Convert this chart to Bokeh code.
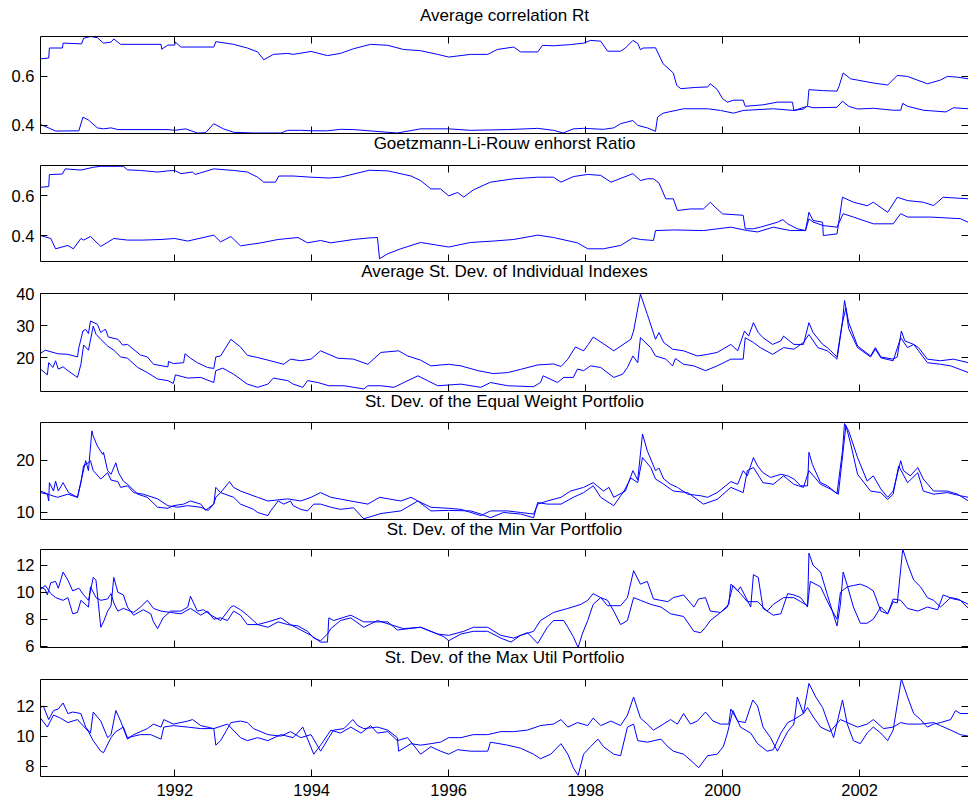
from bokeh.plotting import figure
from bokeh.models import LinearAxis, FixedTicker, Range1d, Title
from bokeh.layouts import column
from bokeh.embed import file_html
from bokeh.resources import INLINE

# ---------------- data (decimal years, values) ----------------
year_ticks = [1992, 1994, 1996, 1998, 2000, 2002]

rt_a_t = [1990.04, 1990.16, 1990.17, 1990.36, 1990.37, 1990.64, 1990.67, 1990.77, 1990.87, 1990.96, 1991.07, 1991.11, 1991.21, 1991.80, 1991.81, 1991.90, 1992.00, 1992.01, 1992.09, 1992.57, 1992.60, 1992.86, 1993.06, 1993.21, 1993.30, 1993.44, 1993.65, 1993.73, 1993.99, 1994.23, 1994.42, 1994.61, 1994.86, 1995.11, 1995.34, 1995.59, 1995.84, 1996.00, 1996.32, 1996.57, 1996.71, 1996.95, 1997.05, 1997.30, 1997.37, 1997.53, 1997.78, 1997.97, 1998.07, 1998.22, 1998.32, 1998.51, 1998.58, 1998.69, 1998.76, 1998.80, 1998.84, 1999.02, 1999.13, 1999.28, 1999.33, 1999.39, 1999.60, 1999.78, 1999.82, 1999.92, 2000.00, 2000.07, 2000.16, 2000.30, 2000.33, 2000.59, 2000.80, 2001.02, 2001.04, 2001.18, 2001.24, 2001.26, 2001.47, 2001.67, 2001.70, 2001.76, 2001.87, 2001.97, 2002.20, 2002.41, 2002.55, 2002.70, 2002.99, 2003.18, 2003.28, 2003.43, 2003.59]
rt_a_v = [0.672, 0.675, 0.716, 0.716, 0.736, 0.733, 0.756, 0.763, 0.758, 0.736, 0.74, 0.753, 0.731, 0.731, 0.711, 0.728, 0.728, 0.74, 0.72, 0.72, 0.742, 0.731, 0.716, 0.70, 0.668, 0.69, 0.694, 0.69, 0.702, 0.685, 0.694, 0.713, 0.731, 0.727, 0.71, 0.705, 0.69, 0.679, 0.69, 0.69, 0.71, 0.72, 0.70, 0.70, 0.727, 0.725, 0.73, 0.736, 0.747, 0.744, 0.703, 0.703, 0.716, 0.747, 0.735, 0.709, 0.716, 0.717, 0.652, 0.614, 0.563, 0.55, 0.555, 0.557, 0.57, 0.547, 0.509, 0.495, 0.503, 0.503, 0.478, 0.484, 0.495, 0.495, 0.461, 0.467, 0.48, 0.546, 0.542, 0.54, 0.56, 0.614, 0.59, 0.585, 0.573, 0.565, 0.604, 0.6, 0.57, 0.585, 0.6, 0.597, 0.59]

rt_b_t = [1990.04, 1990.19, 1990.26, 1990.60, 1990.66, 1990.74, 1990.87, 1990.96, 1991.07, 1991.17, 1991.90, 1992.00, 1992.16, 1992.33, 1992.45, 1992.57, 1992.71, 1992.86, 1993.15, 1993.55, 1993.65, 1993.84, 1994.02, 1994.23, 1994.42, 1994.61, 1995.11, 1995.25, 1995.59, 1996.00, 1996.32, 1996.86, 1997.30, 1997.53, 1997.67, 1997.82, 1997.97, 1998.26, 1998.41, 1998.51, 1998.69, 1998.76, 1998.90, 1999.02, 1999.05, 1999.13, 1999.43, 1999.78, 1999.97, 2000.16, 2000.30, 2000.74, 2001.04, 2001.24, 2001.32, 2001.67, 2001.75, 2001.84, 2001.97, 2002.20, 2002.49, 2002.60, 2002.63, 2002.70, 2002.93, 2003.26, 2003.37, 2003.59]
rt_b_v = [0.404, 0.386, 0.377, 0.378, 0.434, 0.422, 0.39, 0.386, 0.39, 0.383, 0.383, 0.38, 0.386, 0.369, 0.37, 0.407, 0.386, 0.372, 0.369, 0.369, 0.38, 0.38, 0.378, 0.378, 0.384, 0.383, 0.372, 0.369, 0.386, 0.386, 0.38, 0.383, 0.388, 0.38, 0.369, 0.386, 0.388, 0.384, 0.39, 0.407, 0.42, 0.40, 0.39, 0.376, 0.434, 0.45, 0.468, 0.468, 0.461, 0.45, 0.461, 0.468, 0.461, 0.478, 0.472, 0.474, 0.499, 0.478, 0.467, 0.47, 0.462, 0.462, 0.49, 0.478, 0.462, 0.455, 0.472, 0.468]

glr_a_t = [1990.04, 1990.16, 1990.17, 1990.36, 1990.40, 1990.63, 1990.81, 1990.92, 1991.25, 1991.31, 1991.50, 1991.75, 1991.90, 1992.00, 1992.09, 1992.26, 1992.30, 1992.57, 1992.86, 1993.06, 1993.21, 1993.30, 1993.47, 1993.52, 1993.73, 1993.99, 1994.25, 1994.42, 1994.84, 1995.11, 1995.45, 1995.59, 1995.74, 1995.88, 1996.00, 1996.13, 1996.22, 1996.36, 1996.61, 1996.95, 1997.30, 1997.53, 1997.64, 1997.82, 1998.03, 1998.22, 1998.37, 1998.69, 1998.80, 1998.90, 1998.99, 1999.07, 1999.17, 1999.28, 1999.34, 1999.53, 1999.72, 1999.82, 1999.92, 2000.00, 2000.30, 2000.33, 2000.45, 2000.55, 2000.80, 2000.88, 2000.95, 2001.09, 2001.21, 2001.26, 2001.32, 2001.46, 2001.47, 2001.67, 2001.75, 2001.91, 2002.11, 2002.20, 2002.41, 2002.55, 2002.70, 2002.93, 2003.08, 2003.22, 2003.59]
glr_a_v = [0.643, 0.647, 0.707, 0.71, 0.736, 0.73, 0.744, 0.749, 0.749, 0.731, 0.728, 0.72, 0.726, 0.728, 0.712, 0.72, 0.708, 0.736, 0.728, 0.72, 0.694, 0.669, 0.669, 0.70, 0.70, 0.694, 0.69, 0.694, 0.729, 0.726, 0.70, 0.677, 0.635, 0.635, 0.60, 0.617, 0.594, 0.63, 0.669, 0.686, 0.694, 0.694, 0.669, 0.697, 0.708, 0.703, 0.669, 0.712, 0.677, 0.686, 0.686, 0.665, 0.585, 0.585, 0.526, 0.534, 0.534, 0.568, 0.534, 0.509, 0.502, 0.434, 0.434, 0.442, 0.467, 0.48, 0.459, 0.434, 0.425, 0.517, 0.476, 0.467, 0.40, 0.408, 0.593, 0.568, 0.55, 0.568, 0.517, 0.593, 0.576, 0.568, 0.551, 0.593, 0.585]

glr_b_t = [1990.04, 1990.19, 1990.26, 1990.44, 1990.52, 1990.63, 1990.67, 1990.77, 1990.92, 1991.11, 1991.31, 1991.54, 1991.80, 1992.00, 1992.19, 1992.57, 1992.67, 1992.82, 1992.96, 1993.26, 1993.51, 1993.80, 1993.94, 1994.13, 1994.28, 1994.61, 1994.84, 1994.96, 1994.99, 1995.11, 1995.30, 1995.59, 1996.00, 1996.32, 1996.65, 1996.95, 1997.30, 1997.53, 1997.88, 1998.03, 1998.26, 1998.51, 1998.69, 1998.80, 1998.99, 1999.02, 1999.28, 1999.72, 2000.12, 2000.36, 2000.51, 2000.74, 2000.99, 2001.21, 2001.26, 2001.32, 2001.47, 2001.67, 2001.76, 2001.91, 2002.20, 2002.49, 2002.60, 2002.70, 2003.04, 2003.47, 2003.59]
glr_b_v = [0.40, 0.385, 0.333, 0.35, 0.333, 0.385, 0.377, 0.395, 0.345, 0.385, 0.377, 0.377, 0.38, 0.385, 0.372, 0.402, 0.368, 0.395, 0.348, 0.363, 0.38, 0.39, 0.363, 0.375, 0.363, 0.38, 0.388, 0.39, 0.283, 0.308, 0.333, 0.365, 0.342, 0.365, 0.372, 0.38, 0.402, 0.39, 0.363, 0.333, 0.333, 0.35, 0.388, 0.38, 0.375, 0.425, 0.428, 0.425, 0.442, 0.425, 0.418, 0.442, 0.425, 0.425, 0.484, 0.468, 0.45, 0.442, 0.51, 0.493, 0.459, 0.459, 0.51, 0.493, 0.493, 0.485, 0.466]

sd_a_t = [1990.04, 1990.11, 1990.29, 1990.44, 1990.58, 1990.60, 1990.66, 1990.70, 1990.74, 1990.77, 1990.87, 1990.92, 1990.96, 1990.99, 1991.03, 1991.17, 1991.24, 1991.31, 1991.50, 1991.60, 1991.69, 1991.90, 1991.91, 1991.98, 1992.13, 1992.15, 1992.23, 1992.33, 1992.48, 1992.57, 1992.60, 1992.67, 1992.82, 1992.96, 1993.06, 1993.21, 1993.36, 1993.59, 1993.69, 1993.84, 1993.99, 1994.13, 1994.38, 1994.61, 1994.82, 1995.01, 1995.27, 1995.40, 1995.59, 1995.74, 1996.00, 1996.18, 1996.43, 1996.65, 1996.86, 1997.05, 1997.30, 1997.53, 1997.64, 1997.74, 1997.85, 1997.97, 1998.04, 1998.11, 1998.26, 1998.41, 1998.66, 1998.70, 1998.80, 1998.90, 1999.02, 1999.07, 1999.14, 1999.27, 1999.43, 1999.63, 1999.78, 1999.92, 2000.12, 2000.22, 2000.32, 2000.38, 2000.45, 2000.52, 2000.59, 2000.73, 2000.85, 2000.89, 2001.04, 2001.18, 2001.26, 2001.32, 2001.46, 2001.53, 2001.67, 2001.75, 2001.78, 2001.84, 2001.97, 2002.16, 2002.23, 2002.31, 2002.49, 2002.55, 2002.61, 2002.66, 2002.79, 2002.86, 2002.99, 2003.18, 2003.37, 2003.59]
sd_a_v = [21.3, 22.3, 21.2, 21.0, 20.2, 23.1, 28.3, 28.8, 27.5, 31.4, 30.4, 27.8, 28.5, 28.8, 26.4, 25.7, 23.9, 24.1, 20.8, 20.2, 17.9, 17.1, 18.8, 18.1, 18.4, 21.2, 19.8, 18.4, 16.9, 16.6, 20.2, 20.5, 25.7, 23.3, 20.7, 20.0, 19.2, 17.9, 19.5, 19.0, 19.5, 22.1, 19.8, 19.5, 17.9, 21.6, 22.1, 20.5, 19.2, 17.4, 17.9, 17.4, 15.9, 15.0, 15.3, 16.3, 17.7, 18.0, 17.2, 19.5, 23.3, 22.1, 24.1, 26.4, 24.3, 22.1, 25.7, 28.3, 39.8, 33.5, 25.7, 27.8, 24.7, 22.6, 22.1, 20.5, 21.0, 21.6, 24.1, 22.1, 28.3, 26.7, 30.9, 27.8, 26.2, 24.1, 25.2, 26.7, 24.1, 24.1, 30.9, 27.8, 24.1, 23.1, 20.2, 31.4, 37.8, 31.0, 23.6, 20.5, 23.1, 20.2, 19.5, 20.2, 28.3, 25.2, 24.1, 23.1, 19.5, 19.0, 19.5, 18.4]

sd_b_t = [1990.04, 1990.14, 1990.16, 1990.22, 1990.26, 1990.30, 1990.37, 1990.44, 1990.58, 1990.63, 1990.67, 1990.74, 1990.81, 1990.85, 1990.92, 1991.02, 1991.11, 1991.21, 1991.31, 1991.46, 1991.60, 1991.75, 1991.90, 1991.98, 1992.01, 1992.19, 1992.38, 1992.57, 1992.60, 1992.70, 1992.86, 1993.06, 1993.21, 1993.36, 1993.44, 1993.65, 1993.73, 1993.87, 1993.94, 1994.09, 1994.25, 1994.47, 1994.76, 1994.82, 1995.01, 1995.20, 1995.55, 1995.69, 1995.84, 1996.18, 1996.47, 1996.61, 1996.86, 1997.24, 1997.34, 1997.38, 1997.59, 1997.68, 1997.82, 1997.88, 1997.97, 1998.07, 1998.22, 1998.41, 1998.54, 1998.61, 1998.69, 1998.76, 1998.80, 1998.95, 1999.02, 1999.17, 1999.27, 1999.31, 1999.43, 1999.58, 1999.75, 1999.92, 2000.12, 2000.30, 2000.33, 2000.45, 2000.55, 2000.73, 2000.89, 2001.04, 2001.18, 2001.26, 2001.39, 2001.53, 2001.67, 2001.75, 2001.80, 2001.84, 2001.97, 2002.16, 2002.23, 2002.31, 2002.49, 2002.60, 2002.70, 2002.79, 2002.86, 2002.99, 2003.18, 2003.33, 2003.59]
sd_b_v = [16.4, 14.6, 18.4, 16.9, 19.0, 16.4, 17.1, 15.9, 13.8, 17.9, 23.9, 22.3, 29.8, 27.3, 25.7, 23.6, 22.3, 20.2, 19.8, 16.9, 15.3, 13.3, 12.8, 11.9, 14.6, 13.6, 13.8, 12.2, 15.9, 16.7, 14.8, 11.7, 10.7, 11.7, 13.6, 12.8, 11.7, 10.7, 12.8, 12.2, 11.2, 11.2, 10.2, 11.2, 11.2, 10.7, 14.3, 12.8, 11.2, 11.7, 10.7, 12.2, 11.2, 10.9, 12.2, 14.3, 12.2, 13.8, 13.8, 16.4, 15.9, 17.4, 16.9, 13.8, 14.8, 16.9, 20.5, 18.4, 26.2, 23.1, 20.5, 19.5, 17.4, 19.7, 17.9, 17.4, 15.9, 17.4, 19.5, 19.5, 26.2, 24.7, 23.1, 21.0, 23.1, 22.6, 24.7, 27.2, 23.1, 22.1, 19.5, 30.9, 35.5, 29.0, 23.1, 20.2, 22.6, 19.9, 19.0, 26.2, 23.1, 24.1, 22.1, 18.4, 17.9, 17.4, 15.3]

ew_a_t = [1990.04, 1990.14, 1990.16, 1990.17, 1990.23, 1990.26, 1990.30, 1990.37, 1990.45, 1990.58, 1990.63, 1990.70, 1990.74, 1990.79, 1990.81, 1990.87, 1990.95, 1990.96, 1991.02, 1991.07, 1991.14, 1991.18, 1991.25, 1991.31, 1991.46, 1991.60, 1991.75, 1991.90, 1991.98, 1992.13, 1992.23, 1992.38, 1992.45, 1992.57, 1992.60, 1992.67, 1992.80, 1992.86, 1992.96, 1993.21, 1993.36, 1993.65, 1993.84, 1993.99, 1994.13, 1994.28, 1994.57, 1994.82, 1994.99, 1995.30, 1995.45, 1995.55, 1995.74, 1996.00, 1996.18, 1996.47, 1996.61, 1996.86, 1997.05, 1997.24, 1997.30, 1997.44, 1997.64, 1997.78, 1997.97, 1998.11, 1998.26, 1998.34, 1998.41, 1998.58, 1998.69, 1998.76, 1998.83, 1998.90, 1999.02, 1999.07, 1999.14, 1999.24, 1999.34, 1999.49, 1999.68, 1999.78, 1999.92, 2000.12, 2000.22, 2000.30, 2000.36, 2000.45, 2000.51, 2000.59, 2000.70, 2000.85, 2000.95, 2001.04, 2001.14, 2001.24, 2001.26, 2001.31, 2001.43, 2001.53, 2001.67, 2001.75, 2001.78, 2001.84, 2001.97, 2002.11, 2002.20, 2002.31, 2002.41, 2002.49, 2002.60, 2002.64, 2002.74, 2002.85, 2002.93, 2003.08, 2003.28, 2003.43, 2003.59]
ew_a_v = [13.8, 13.5, 12.2, 15.7, 14.1, 16.0, 14.1, 15.7, 13.8, 12.9, 15.9, 19.9, 18.0, 25.6, 24.6, 22.7, 21.1, 21.5, 18.0, 17.3, 19.5, 17.6, 16.0, 15.4, 13.5, 12.9, 11.0, 10.8, 11.3, 11.6, 12.2, 11.6, 10.4, 11.6, 14.8, 13.8, 15.9, 14.8, 14.1, 12.9, 12.2, 12.6, 12.2, 12.9, 13.8, 12.9, 12.2, 11.6, 12.9, 12.2, 12.9, 12.2, 11.0, 10.8, 10.6, 9.4, 10.3, 10.3, 10.0, 9.7, 11.6, 12.2, 12.9, 14.1, 14.8, 15.7, 14.1, 14.8, 12.9, 14.1, 18.0, 16.2, 25.0, 21.8, 18.0, 18.5, 16.4, 15.4, 14.8, 13.5, 13.2, 12.9, 13.8, 15.9, 15.4, 18.0, 17.0, 20.5, 18.9, 17.6, 16.7, 17.3, 17.0, 16.4, 15.1, 15.1, 21.5, 19.2, 15.7, 15.1, 13.6, 21.8, 27.0, 25.6, 20.5, 16.0, 17.0, 14.5, 12.9, 14.1, 19.9, 18.0, 17.0, 18.6, 16.4, 14.1, 14.1, 13.5, 12.2]

ew_b_t = [1990.04, 1990.19, 1990.29, 1990.44, 1990.58, 1990.63, 1990.67, 1990.74, 1990.77, 1990.81, 1990.92, 1991.02, 1991.07, 1991.17, 1991.21, 1991.31, 1991.40, 1991.54, 1991.75, 1991.90, 1992.04, 1992.19, 1992.38, 1992.49, 1992.57, 1992.60, 1992.67, 1992.86, 1992.96, 1993.15, 1993.21, 1993.36, 1993.40, 1993.51, 1993.59, 1993.69, 1993.73, 1993.84, 1993.94, 1994.03, 1994.13, 1994.28, 1994.42, 1994.61, 1994.76, 1995.01, 1995.30, 1995.55, 1995.74, 1996.00, 1996.32, 1996.47, 1996.61, 1996.80, 1997.05, 1997.24, 1997.30, 1997.44, 1997.64, 1997.82, 1997.97, 1998.11, 1998.22, 1998.41, 1998.56, 1998.66, 1998.76, 1998.83, 1998.95, 1999.02, 1999.14, 1999.28, 1999.49, 1999.72, 1999.92, 2000.12, 2000.30, 2000.36, 2000.45, 2000.59, 2000.74, 2000.89, 2001.04, 2001.18, 2001.26, 2001.43, 2001.57, 2001.69, 2001.80, 2001.87, 2001.97, 2002.16, 2002.31, 2002.41, 2002.49, 2002.57, 2002.70, 2002.85, 2002.93, 2003.08, 2003.28, 2003.47, 2003.59]
ew_b_v = [14.1, 13.3, 12.9, 13.5, 12.9, 15.7, 19.0, 19.5, 19.9, 18.0, 16.4, 17.6, 16.2, 15.9, 14.8, 15.1, 13.8, 13.5, 12.6, 11.3, 11.0, 11.3, 11.0, 10.4, 11.6, 12.9, 13.8, 12.9, 11.6, 10.6, 10.0, 9.4, 10.3, 12.2, 11.6, 12.2, 11.3, 10.6, 10.3, 11.6, 11.6, 11.0, 10.6, 10.9, 8.8, 9.8, 10.3, 12.2, 10.3, 10.4, 10.3, 9.7, 9.0, 10.0, 9.7, 9.0, 11.9, 11.6, 11.6, 12.9, 13.8, 15.1, 12.9, 11.3, 14.1, 16.6, 15.7, 20.5, 18.6, 16.4, 15.4, 14.1, 13.8, 11.6, 12.5, 14.8, 13.8, 18.0, 18.6, 15.7, 15.4, 17.0, 15.4, 14.8, 18.0, 15.4, 14.5, 13.5, 26.6, 23.1, 17.3, 14.1, 13.8, 12.5, 13.5, 18.9, 15.7, 17.6, 14.1, 13.5, 13.8, 13.2, 12.9]

mv_a_t = [1990.04, 1990.11, 1990.14, 1990.19, 1990.26, 1990.30, 1990.37, 1990.44, 1990.51, 1990.60, 1990.67, 1990.74, 1990.81, 1990.85, 1990.92, 1990.96, 1991.02, 1991.07, 1991.11, 1991.17, 1991.25, 1991.31, 1991.40, 1991.54, 1991.65, 1991.69, 1991.75, 1991.83, 1991.94, 1992.09, 1992.19, 1992.23, 1992.33, 1992.42, 1992.53, 1992.67, 1992.82, 1992.86, 1992.96, 1993.06, 1993.21, 1993.36, 1993.55, 1993.69, 1993.84, 1993.99, 1994.13, 1994.23, 1994.25, 1994.32, 1994.57, 1994.76, 1995.11, 1995.25, 1995.59, 1995.93, 1996.00, 1996.18, 1996.36, 1996.57, 1996.76, 1996.91, 1997.05, 1997.24, 1997.34, 1997.53, 1997.74, 1997.93, 1998.03, 1998.11, 1998.22, 1998.32, 1998.51, 1998.61, 1998.70, 1998.80, 1998.90, 1998.99, 1999.20, 1999.28, 1999.43, 1999.58, 1999.65, 1999.75, 1999.82, 1999.97, 2000.09, 2000.12, 2000.22, 2000.26, 2000.41, 2000.45, 2000.52, 2000.59, 2000.74, 2000.85, 2000.95, 2001.04, 2001.14, 2001.24, 2001.26, 2001.32, 2001.43, 2001.53, 2001.62, 2001.67, 2001.72, 2001.76, 2001.82, 2001.91, 2002.01, 2002.11, 2002.20, 2002.31, 2002.41, 2002.49, 2002.55, 2002.63, 2002.70, 2002.79, 2002.89, 2002.99, 2003.08, 2003.18, 2003.33, 2003.43, 2003.59]
mv_a_v = [10.4, 10.2, 9.8, 10.7, 10.8, 10.3, 11.5, 10.9, 10.1, 10.3, 9.8, 9.4, 11.1, 10.9, 7.4, 7.8, 8.6, 9.0, 11.1, 10.0, 9.8, 8.9, 8.3, 8.7, 8.4, 7.8, 7.3, 8.1, 8.6, 8.6, 8.9, 9.7, 8.6, 8.7, 8.3, 7.9, 8.9, 9.0, 8.7, 8.3, 7.6, 7.8, 8.1, 7.6, 7.2, 6.8, 6.3, 6.3, 8.1, 7.9, 8.3, 7.8, 7.8, 7.2, 7.4, 6.7, 6.4, 6.9, 7.1, 7.1, 6.6, 6.3, 6.8, 7.1, 7.9, 8.5, 8.8, 9.1, 9.4, 9.9, 9.6, 9.0, 9.0, 9.6, 11.6, 10.6, 10.8, 9.5, 9.3, 9.6, 9.8, 8.9, 9.5, 9.6, 8.6, 8.5, 9.1, 10.6, 10.1, 10.4, 8.9, 11.3, 11.1, 8.8, 8.3, 8.4, 9.9, 9.8, 9.6, 8.9, 12.9, 12.0, 11.5, 9.8, 8.3, 7.5, 9.1, 11.5, 10.5, 8.9, 7.7, 7.7, 8.0, 8.9, 8.4, 9.3, 9.2, 13.2, 12.1, 10.9, 10.4, 9.6, 9.4, 8.9, 9.6, 9.5, 9.1]

mv_b_t = [1990.04, 1990.11, 1990.19, 1990.26, 1990.37, 1990.44, 1990.51, 1990.58, 1990.63, 1990.74, 1990.77, 1990.85, 1990.92, 1991.02, 1991.07, 1991.11, 1991.17, 1991.25, 1991.40, 1991.50, 1991.60, 1991.69, 1991.80, 1991.94, 1992.09, 1992.23, 1992.38, 1992.48, 1992.57, 1992.67, 1992.77, 1992.86, 1992.96, 1993.06, 1993.21, 1993.36, 1993.51, 1993.65, 1993.80, 1993.94, 1994.03, 1994.13, 1994.23, 1994.28, 1994.42, 1994.57, 1994.76, 1994.96, 1995.15, 1995.34, 1995.59, 1995.84, 1996.00, 1996.22, 1996.36, 1996.57, 1996.76, 1996.95, 1997.15, 1997.30, 1997.44, 1997.53, 1997.68, 1997.74, 1997.82, 1997.89, 1997.95, 1998.03, 1998.11, 1998.22, 1998.32, 1998.41, 1998.51, 1998.61, 1998.70, 1998.80, 1998.95, 1999.10, 1999.24, 1999.43, 1999.58, 1999.68, 1999.75, 1999.82, 1999.97, 2000.07, 2000.15, 2000.26, 2000.36, 2000.51, 2000.65, 2000.74, 2000.89, 2001.04, 2001.14, 2001.24, 2001.28, 2001.43, 2001.57, 2001.67, 2001.72, 2001.82, 2001.91, 2002.01, 2002.11, 2002.20, 2002.31, 2002.41, 2002.49, 2002.60, 2002.70, 2002.85, 2002.99, 2003.14, 2003.22, 2003.37, 2003.47, 2003.59]
mv_b_v = [10.2, 10.5, 9.9, 9.6, 9.4, 9.6, 8.4, 8.5, 9.4, 8.9, 10.4, 9.6, 9.4, 9.5, 9.9, 9.2, 8.6, 8.8, 8.5, 8.9, 9.4, 8.8, 8.6, 8.5, 8.4, 8.8, 8.3, 8.6, 8.0, 8.1, 7.9, 8.6, 8.3, 7.6, 7.6, 7.4, 7.8, 7.6, 7.5, 7.1, 6.6, 6.4, 6.9, 7.3, 7.9, 8.1, 7.4, 7.9, 7.6, 7.3, 7.4, 6.9, 6.8, 7.1, 7.4, 7.4, 6.8, 6.6, 7.0, 6.2, 7.4, 7.9, 7.9, 7.4, 6.7, 5.9, 6.9, 7.9, 9.1, 9.6, 9.4, 8.6, 7.6, 7.9, 9.6, 9.4, 9.1, 8.9, 8.4, 8.2, 7.1, 7.0, 7.4, 7.9, 8.5, 8.9, 10.5, 9.9, 9.3, 9.3, 8.6, 9.1, 9.6, 9.6, 9.3, 9.0, 10.8, 10.4, 8.9, 8.0, 10.0, 10.4, 10.5, 10.6, 10.4, 10.1, 8.6, 8.4, 9.5, 9.4, 8.8, 8.6, 8.9, 8.7, 9.8, 9.5, 9.4, 8.8]

mu_a_t = [1990.04, 1990.08, 1990.16, 1990.23, 1990.30, 1990.37, 1990.44, 1990.51, 1990.63, 1990.70, 1990.77, 1990.81, 1990.92, 1991.02, 1991.07, 1991.14, 1991.21, 1991.31, 1991.40, 1991.50, 1991.60, 1991.69, 1991.80, 1991.84, 1991.98, 1992.19, 1992.26, 1992.38, 1992.57, 1992.60, 1992.67, 1992.82, 1992.96, 1993.06, 1993.15, 1993.36, 1993.55, 1993.69, 1993.84, 1993.99, 1994.13, 1994.25, 1994.32, 1994.47, 1994.60, 1994.67, 1994.76, 1994.96, 1995.11, 1995.25, 1995.27, 1995.45, 1995.59, 1995.74, 1995.88, 1996.00, 1996.18, 1996.36, 1996.57, 1996.76, 1996.95, 1997.15, 1997.34, 1997.53, 1997.64, 1997.74, 1997.88, 1998.03, 1998.11, 1998.22, 1998.37, 1998.51, 1998.61, 1998.70, 1998.80, 1998.90, 1998.99, 1999.10, 1999.24, 1999.34, 1999.43, 1999.53, 1999.63, 1999.75, 1999.86, 1999.97, 2000.09, 2000.12, 2000.22, 2000.33, 2000.44, 2000.51, 2000.59, 2000.70, 2000.80, 2000.95, 2001.04, 2001.09, 2001.18, 2001.26, 2001.36, 2001.46, 2001.53, 2001.62, 2001.75, 2001.82, 2001.91, 2002.01, 2002.11, 2002.20, 2002.31, 2002.41, 2002.49, 2002.61, 2002.70, 2002.79, 2002.89, 2002.99, 2003.08, 2003.18, 2003.33, 2003.40, 2003.47, 2003.59]
mu_a_v = [11.9, 12.0, 11.1, 11.7, 11.8, 12.2, 11.5, 11.6, 11.5, 10.6, 10.2, 11.6, 11.0, 9.9, 10.1, 11.7, 11.0, 9.8, 10.1, 10.3, 10.5, 10.8, 10.6, 11.1, 10.8, 11.0, 11.1, 10.7, 10.5, 9.4, 9.7, 10.9, 11.0, 10.9, 10.5, 10.1, 10.0, 10.3, 9.9, 10.1, 9.0, 9.9, 10.4, 10.5, 11.1, 10.7, 10.5, 10.6, 10.4, 9.9, 9.0, 9.5, 9.4, 9.5, 9.6, 9.9, 9.9, 10.1, 10.1, 10.3, 10.3, 10.4, 10.7, 10.8, 11.1, 10.6, 10.9, 10.7, 11.2, 10.7, 11.0, 10.7, 11.4, 12.6, 11.2, 10.8, 10.4, 10.7, 11.1, 10.8, 11.5, 10.8, 11.0, 11.6, 11.0, 10.8, 10.8, 11.8, 11.0, 10.9, 12.4, 12.0, 10.6, 9.9, 9.0, 10.3, 10.8, 12.6, 11.5, 13.5, 12.6, 11.9, 11.0, 9.9, 12.4, 10.8, 9.7, 9.5, 10.2, 10.6, 10.2, 9.7, 10.4, 13.8, 12.6, 11.5, 11.1, 10.6, 10.8, 10.9, 11.1, 11.7, 11.5, 11.5]

mu_b_t = [1990.04, 1990.14, 1990.23, 1990.33, 1990.44, 1990.58, 1990.74, 1990.81, 1990.92, 1990.96, 1991.07, 1991.14, 1991.25, 1991.31, 1991.50, 1991.65, 1991.80, 1991.84, 1991.98, 1992.19, 1992.38, 1992.57, 1992.77, 1992.96, 1993.06, 1993.21, 1993.36, 1993.55, 1993.73, 1993.87, 1994.03, 1994.13, 1994.28, 1994.42, 1994.57, 1994.72, 1994.86, 1994.96, 1995.11, 1995.25, 1995.40, 1995.59, 1995.74, 1995.88, 1996.00, 1996.13, 1996.32, 1996.57, 1996.61, 1996.86, 1997.05, 1997.24, 1997.34, 1997.49, 1997.64, 1997.74, 1997.82, 1997.89, 1997.97, 1998.07, 1998.18, 1998.26, 1998.41, 1998.51, 1998.61, 1998.70, 1998.76, 1998.90, 1999.10, 1999.20, 1999.28, 1999.43, 1999.58, 1999.65, 1999.78, 1999.92, 2000.01, 2000.07, 2000.15, 2000.26, 2000.41, 2000.51, 2000.65, 2000.74, 2000.85, 2000.95, 2001.04, 2001.18, 2001.24, 2001.32, 2001.43, 2001.57, 2001.72, 2001.82, 2001.97, 2002.11, 2002.20, 2002.35, 2002.49, 2002.60, 2002.70, 2002.89, 2003.08, 2003.18, 2003.33, 2003.47, 2003.59]
mu_b_v = [11.2, 10.6, 11.4, 11.2, 10.9, 11.1, 10.3, 9.7, 9.0, 8.9, 9.9, 10.3, 10.6, 9.9, 10.1, 10.1, 9.8, 10.6, 10.7, 10.6, 10.5, 10.5, 10.8, 9.9, 9.7, 9.9, 9.7, 10.1, 9.9, 10.6, 8.8, 9.4, 10.4, 10.2, 10.6, 10.2, 10.7, 10.2, 10.3, 9.7, 9.9, 8.8, 9.3, 9.0, 8.8, 9.1, 9.0, 9.0, 9.6, 9.4, 9.2, 8.8, 8.5, 8.8, 9.5, 8.8, 7.9, 7.4, 8.8, 9.3, 9.8, 9.3, 8.8, 8.7, 10.6, 10.8, 9.7, 9.6, 9.8, 9.3, 9.0, 8.8, 8.2, 7.9, 8.7, 8.8, 9.3, 10.2, 11.7, 10.6, 10.2, 9.5, 9.0, 9.1, 10.2, 10.9, 11.1, 11.5, 11.9, 11.3, 10.6, 10.3, 11.1, 10.9, 10.6, 10.8, 11.1, 10.5, 10.6, 10.9, 10.8, 10.8, 10.9, 10.7, 10.4, 10.1, 10.0]

titles = [
    "Average correlation Rt",
    "Goetzmann-Li-Rouw enhorst Ratio",
    "Average St. Dev. of Individual Indexes",
    "St. Dev. of the Equal Weight Portfolio",
    "St. Dev. of the Min Var Portfolio",
    "St. Dev. of the Max Util Portfolio",
]
y_limits = [(0.367, 0.763), (0.269, 0.753), (9.4, 40.0), (8.66, 27.2), (5.9, 13.17), (7.32, 13.76)]
y_ticks = [[0.4, 0.6], [0.4, 0.6], [20, 30, 40], [10, 20], [6, 8, 10, 12], [8, 10, 12]]
series = [
    [(rt_a_t, rt_a_v), (rt_b_t, rt_b_v)],
    [(glr_a_t, glr_a_v), (glr_b_t, glr_b_v)],
    [(sd_a_t, sd_a_v), (sd_b_t, sd_b_v)],
    [(ew_a_t, ew_a_v), (ew_b_t, ew_b_v)],
    [(mv_a_t, mv_a_v), (mv_b_t, mv_b_v)],
    [(mu_a_t, mu_a_v), (mu_b_t, mu_b_v)],
]

# ---------------- layout ----------------
FONT = "Liberation Sans"
XMIN, XMAX = 1990.04, 2003.59
heights = [130, 126, 131, 128, 128, 132]
tops = [6, 5, 7, 5, 4, 6]
bottoms = [27, 25, 26, 26, 26, 29]


def style(ax, labels):
    ax.major_tick_in = 7
    ax.major_tick_out = 0
    ax.minor_tick_in = 0
    ax.minor_tick_out = 0
    ax.major_tick_line_color = "black"
    ax.axis_line_color = "black"
    ax.major_label_text_font = FONT
    if labels:
        ax.major_label_text_color = "#000000"
        ax.major_label_text_font_size = "16.5px"
        ax.major_label_standoff = 6
    else:
        ax.major_label_text_color = None
        ax.major_label_text_font_size = "0px"
        ax.major_label_standoff = 0


def make_title(text, standoff):
    return Title(text=text, align="center", vertical_align="top", standoff=standoff,
                 text_font=FONT, text_font_size="17px", text_font_style="normal",
                 text_color="#000000")


# a thin header strip that carries the first panel's title
head = figure(width=968, height=30, output_backend="svg", toolbar_location=None,
              x_range=Range1d(XMIN, XMAX), y_range=Range1d(0, 1),
              min_border_left=40, min_border_right=0, min_border_top=0, min_border_bottom=29,
              x_axis_location=None, y_axis_location=None)
head.outline_line_color = None
head.xgrid.visible = False
head.ygrid.visible = False
head.add_layout(make_title(titles[0], 8), "below")

figs = [head]
for i in range(6):
    last = (i == 5)
    p = figure(width=968, height=heights[i], output_backend="svg", toolbar_location=None,
               x_range=Range1d(XMIN, XMAX), y_range=Range1d(*y_limits[i]),
               min_border_left=40, min_border_right=0,
               min_border_top=tops[i], min_border_bottom=bottoms[i],
               x_axis_location=None, y_axis_location=None)
    p.outline_line_color = None
    p.xgrid.visible = False
    p.ygrid.visible = False
    p.background_fill_color = "white"
    p.border_fill_color = "white"

    ax_t = LinearAxis(ticker=FixedTicker(ticks=year_ticks))
    style(ax_t, False)
    p.add_layout(ax_t, "above")

    ax_b = LinearAxis(ticker=FixedTicker(ticks=year_ticks))
    style(ax_b, last)
    if last:
        ax_b.major_label_standoff = 7
    p.add_layout(ax_b, "below")
    if not last:
        # title of the next panel sits in the gap under this one
        p.add_layout(make_title(titles[i + 1], 1), "below")

    ax_l = LinearAxis(ticker=FixedTicker(ticks=y_ticks[i]))
    style(ax_l, True)
    p.add_layout(ax_l, "left")
    ax_r = LinearAxis(ticker=FixedTicker(ticks=y_ticks[i]))
    style(ax_r, False)
    ax_r.axis_line_color = None
    p.add_layout(ax_r, "right")

    for t, v in series[i]:
        p.line(t, v, line_color="#0000ff", line_width=1)
    figs.append(p)

layout = column(*figs, spacing=0)
open("out.html", "w").write(file_html(layout, INLINE))
